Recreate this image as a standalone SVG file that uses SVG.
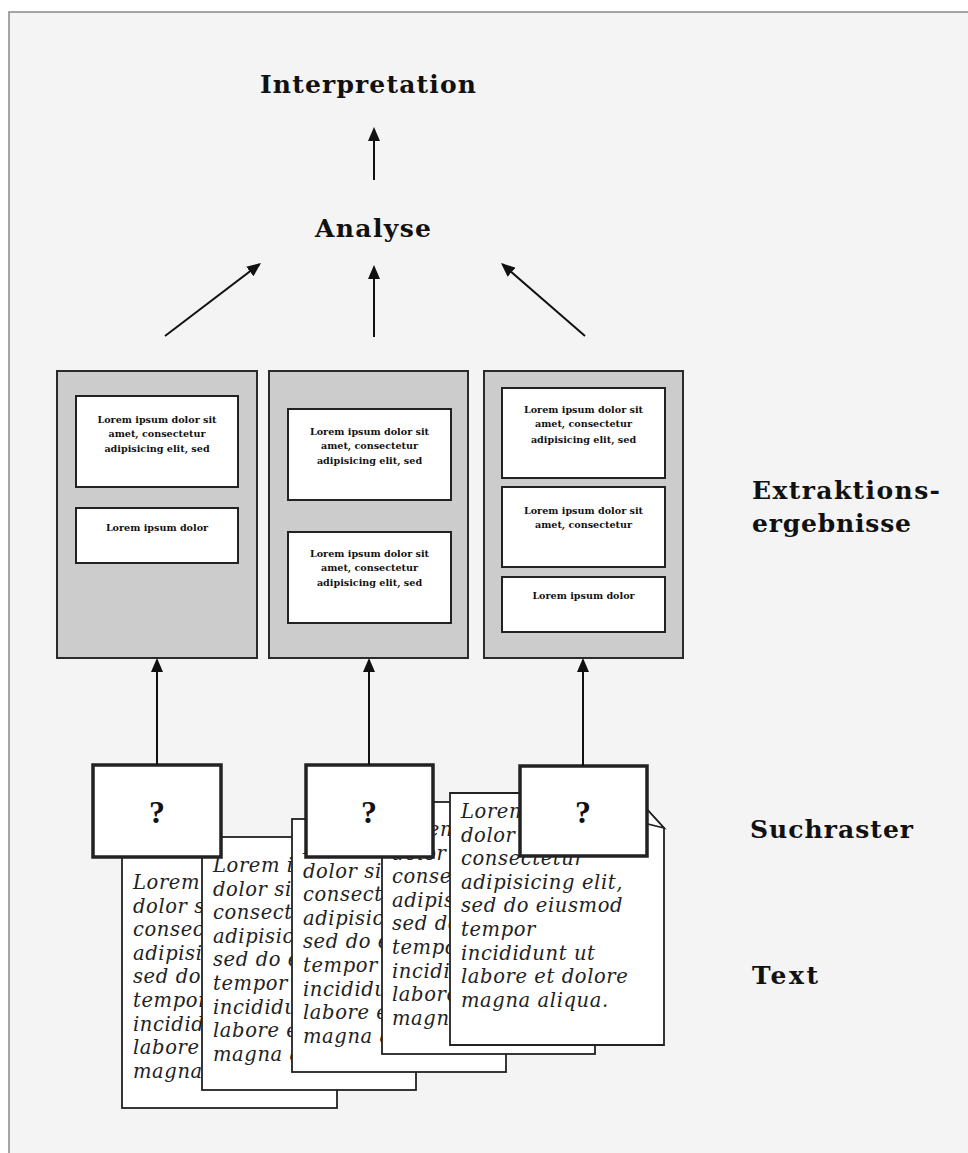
<svg xmlns="http://www.w3.org/2000/svg" width="968" height="1153" viewBox="0 0 968 1153">
<defs>
<style>
.hd{font-family:"DejaVu Serif","Liberation Serif",serif;font-weight:bold;font-size:25px;fill:#111}
.panel{fill:#cccccc;stroke:#2a2a2a;stroke-width:2}
.box{fill:#fff;stroke:#222;stroke-width:2}
.sm{font-family:"DejaVu Serif","Liberation Serif",serif;font-weight:bold;font-size:9.6px;fill:#111;text-anchor:middle}
.q{fill:#fff;stroke:#222;stroke-width:3.5}
.qt{font-family:"Liberation Serif","DejaVu Serif",serif;font-weight:bold;font-size:32px;fill:#111;text-anchor:middle}
.doc{fill:#fff;stroke:#222;stroke-width:1.8}
.hw{font-family:"DejaVu Serif","Liberation Serif",serif;font-style:italic;font-size:19.5px;fill:#222;letter-spacing:0.6px}
.conn{stroke:#111;stroke-width:2;fill:none;marker-end:url(#ah)}
</style>
<marker id="ah" markerUnits="userSpaceOnUse" markerWidth="14" markerHeight="12" refX="12" refY="6" orient="auto">
<path d="M0,0 L14,6 L0,12 z" fill="#111"/>
</marker>
</defs>
<rect x="0" y="0" width="968" height="1153" fill="#ffffff"/>
<rect x="9" y="12" width="980" height="1160" fill="#f4f4f4" stroke="#888" stroke-width="1.5"/>

<g id="interpretation"><text class="hd" x="368" y="93" text-anchor="middle" textLength="216">Interpretation</text></g>
<g id="analyse"><text class="hd" x="373" y="237" text-anchor="middle" textLength="116">Analyse</text></g>

<g id="panel1">
<rect class="panel" x="57" y="371" width="200" height="287"/>
<rect class="box" x="76" y="396" width="162" height="91"/>
<text class="sm" x="157" y="423">Lorem ipsum dolor sit</text>
<text class="sm" x="157" y="437">amet, consectetur</text>
<text class="sm" x="157" y="452">adipisicing elit, sed</text>
<rect class="box" x="76" y="508" width="162" height="55"/>
<text class="sm" x="157" y="531">Lorem ipsum dolor</text>
</g>
<g id="panel2">
<rect class="panel" x="269" y="371" width="199" height="287"/>
<rect class="box" x="288" y="409" width="163" height="91"/>
<text class="sm" x="369.5" y="435">Lorem ipsum dolor sit</text>
<text class="sm" x="369.5" y="449">amet, consectetur</text>
<text class="sm" x="369.5" y="464">adipisicing elit, sed</text>
<rect class="box" x="288" y="532" width="163" height="91"/>
<text class="sm" x="369.5" y="557">Lorem ipsum dolor sit</text>
<text class="sm" x="369.5" y="571">amet, consectetur</text>
<text class="sm" x="369.5" y="586">adipisicing elit, sed</text>
</g>
<g id="panel3">
<rect class="panel" x="484" y="371" width="199" height="287"/>
<rect class="box" x="502" y="388" width="163" height="90"/>
<text class="sm" x="583.5" y="413">Lorem ipsum dolor sit</text>
<text class="sm" x="583.5" y="427">amet, consectetur</text>
<text class="sm" x="583.5" y="443">adipisicing elit, sed</text>
<rect class="box" x="502" y="487" width="163" height="80"/>
<text class="sm" x="583.5" y="514">Lorem ipsum dolor sit</text>
<text class="sm" x="583.5" y="528">amet, consectetur</text>
<rect class="box" x="502" y="577" width="163" height="55"/>
<text class="sm" x="583.5" y="599">Lorem ipsum dolor</text>
</g>

<g id="doc1">
<rect class="doc" x="122" y="855" width="215" height="253"/>
<text class="hw" x="133" y="889">Lorem ipsum</text>
<text class="hw" x="133" y="912.6">dolor sit amet,</text>
<text class="hw" x="133" y="936.2">consectetur</text>
<text class="hw" x="133" y="959.8">adipisicing elit,</text>
<text class="hw" x="133" y="983.4">sed do eiusmod</text>
<text class="hw" x="133" y="1007">tempor</text>
<text class="hw" x="133" y="1030.6">incididunt ut</text>
<text class="hw" x="133" y="1054.2">labore et dolore</text>
<text class="hw" x="133" y="1077.8">magna aliqua.</text>
</g>
<g id="doc2">
<rect class="doc" x="202" y="837" width="214" height="253"/>
<text class="hw" x="213" y="872">Lorem ipsum</text>
<text class="hw" x="213" y="895.6">dolor sit amet,</text>
<text class="hw" x="213" y="919.2">consectetur</text>
<text class="hw" x="213" y="942.8">adipisicing elit,</text>
<text class="hw" x="213" y="966.4">sed do eiusmod</text>
<text class="hw" x="213" y="990">tempor</text>
<text class="hw" x="213" y="1013.6">incididunt ut</text>
<text class="hw" x="213" y="1037.2">labore et dolore</text>
<text class="hw" x="213" y="1060.8">magna aliqua.</text>
</g>
<g id="doc3">
<rect class="doc" x="292" y="819" width="214" height="253"/>
<text class="hw" x="303" y="854">Lorem ipsum</text>
<text class="hw" x="303" y="877.6">dolor sit amet,</text>
<text class="hw" x="303" y="901.2">consectetur</text>
<text class="hw" x="303" y="924.8">adipisicing elit,</text>
<text class="hw" x="303" y="948.4">sed do eiusmod</text>
<text class="hw" x="303" y="972">tempor</text>
<text class="hw" x="303" y="995.6">incididunt ut</text>
<text class="hw" x="303" y="1019.2">labore et dolore</text>
<text class="hw" x="303" y="1042.8">magna aliqua.</text>
</g>
<g id="doc4">
<rect class="doc" x="382" y="802" width="213" height="252"/>
<text class="hw" x="392" y="836">Lorem ipsum</text>
<text class="hw" x="392" y="859.6">dolor sit amet,</text>
<text class="hw" x="392" y="883.2">consectetur</text>
<text class="hw" x="392" y="906.8">adipisicing elit,</text>
<text class="hw" x="392" y="930.4">sed do eiusmod</text>
<text class="hw" x="392" y="954">tempor</text>
<text class="hw" x="392" y="977.6">incididunt ut</text>
<text class="hw" x="392" y="1001.2">labore et dolore</text>
<text class="hw" x="392" y="1024.8">magna aliqua.</text>
</g>
<g id="doc5">
<path class="doc" d="M450,793 L632,793 L664,828 L664,1045 L450,1045 Z"/>
<path class="doc" d="M632,793 L664,828 L640,822 Z"/>
<text class="hw" x="461" y="818">Lorem ipsum</text>
<text class="hw" x="461" y="841.6">dolor sit amet,</text>
<text class="hw" x="461" y="865.2">consectetur</text>
<text class="hw" x="461" y="888.8">adipisicing elit,</text>
<text class="hw" x="461" y="912.4">sed do eiusmod</text>
<text class="hw" x="461" y="936">tempor</text>
<text class="hw" x="461" y="959.6">incididunt ut</text>
<text class="hw" x="461" y="983.2">labore et dolore</text>
<text class="hw" x="461" y="1006.8">magna aliqua.</text>
</g>

<g id="raster1"><rect class="q" x="93" y="765" width="128" height="92"/><text class="qt" x="157" y="823">?</text></g>
<g id="raster2"><rect class="q" x="306" y="765" width="127" height="92"/><text class="qt" x="369" y="823">?</text></g>
<g id="raster3"><rect class="q" x="520" y="766" width="127" height="90"/><text class="qt" x="583" y="823">?</text></g>

<g id="labels">
<text class="hd" x="752" y="499" textLength="188">Extraktions-</text>
<text class="hd" x="752" y="532" textLength="159">ergebnisse</text>
<text class="hd" x="750" y="838" textLength="163">Suchraster</text>
<text class="hd" x="752" y="984" textLength="66">Text</text>
</g>

<g id="connectors">
<path class="conn" d="M374,180 L374,129"/>
<path class="conn" d="M374,337 L374,267"/>
<path class="conn" d="M165,336 L259.4,264.2"/>
<path class="conn" d="M585,336 L502.5,264.3"/>
<path class="conn" d="M157,765 L157,660"/>
<path class="conn" d="M369,765 L369,660"/>
<path class="conn" d="M583,766 L583,660"/>
</g>
</svg>
